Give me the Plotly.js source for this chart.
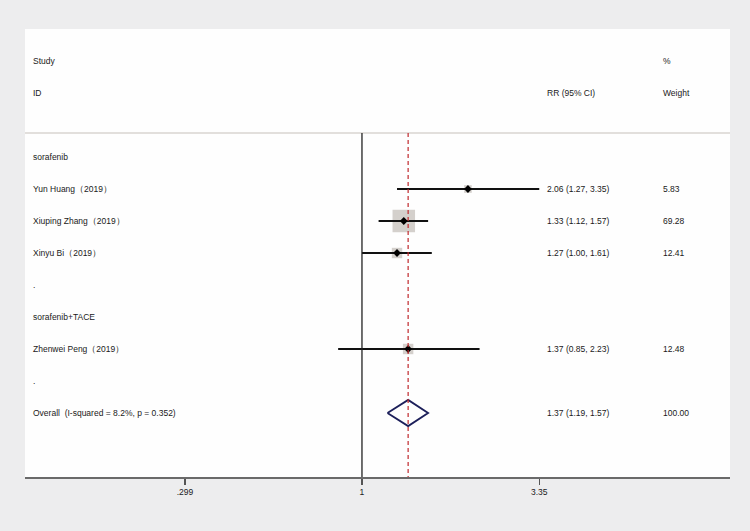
<!DOCTYPE html>
<html>
<head>
<meta charset="utf-8">
<script src="https://cdn.plot.ly/plotly-3.0.1.min.js"></script>
<style>
  html, body { margin: 0; padding: 0; background: #ededee; }
  #forest { width: 750px; height: 531px; }
</style>
</head>
<body>
<div id="forest"></div>
<script>
// rows of the left column, top to bottom (after the two header rows)
var rowLabels = ['sorafenib', 'Yun Huang（2019）', 'Xiuping Zhang（2019）', 'Xinyu Bi（2019）', '.',
                 'sorafenib+TACE', 'Zhenwei Peng（2019）', '.', 'Overall\u00a0\u00a0(I-squared = 8.2%, p = 0.352)'];

// individual studies
var studies = ['Yun Huang（2019）', 'Xiuping Zhang（2019）', 'Xinyu Bi（2019）', 'Zhenwei Peng（2019）'];
var rr      = [2.06, 1.33, 1.27, 1.37];
var ciLow   = [1.27, 1.12, 1.00, 0.85];
var ciHigh  = [3.35, 1.57, 1.61, 2.23];
var weights = [5.83, 69.28, 12.41, 12.48];

// pooled estimate
var overallRR = 1.37, overallLow = 1.19, overallHigh = 1.57, overallWeight = 100.00;

var tickVals = [0.299, 1, 3.35];
var tickText = ['.299', '1', '3.35'];

var firstRow = 3;  // rows 0,1 are headers, 2 is blank
function rowOf(label){ return rowLabels.indexOf(label) + firstRow; }
var overallRow = rowLabels.length - 1 + firstRow;

var font = {family: 'Liberation Sans, Arial, sans-serif', size: 8.5, color: '#1a1a1a'};
var colStudy = 0.0092, colRR = 0.737, colWt = 0.902;

var traces = [];
var studyRows = studies.map(rowOf);

// weight boxes
var maxW = Math.max.apply(null, weights);
traces.push({
	x: rr, y: studyRows, mode: 'markers', type: 'scatter', hoverinfo: 'skip',
	marker: {symbol: 'square', color: '#c2bcb7',
		size: weights.map(function(w){ return 21*Math.sqrt(w/maxW) + 1.5; }), line: {width: 0}}
});

// confidence intervals
studies.forEach(function(s, i){
	traces.push({
		x: [ciLow[i], ciHigh[i]], y: [studyRows[i], studyRows[i]],
		mode: 'lines', type: 'scatter', hoverinfo: 'skip',
		line: {color: '#111', width: 1.8}
	});
});

// point estimates
traces.push({
	x: rr, y: studyRows, mode: 'markers', type: 'scatter', hoverinfo: 'skip',
	marker: {symbol: 'diamond', color: '#000', size: 6}
});

// pooled diamond
var hh = 0.41;
traces.push({
	x: [overallLow, overallRR, overallHigh, overallRR, overallLow],
	y: [overallRow, overallRow - hh, overallRow, overallRow + hh, overallRow],
	mode: 'lines', type: 'scatter', hoverinfo: 'skip',
	line: {color: '#1c1f5a', width: 1.8}
});

var annotations = [];
function addText(txt, xp, row){
	annotations.push({text: txt, x: xp, xref: 'paper', y: row, yref: 'y',
		xanchor: 'left', yanchor: 'middle', showarrow: false, font: font});
}
addText('Study', colStudy, 0);
addText('ID', colStudy, 1);
addText('%', colWt, 0);
addText('RR (95% CI)', colRR, 1);
addText('Weight', colWt, 1);
rowLabels.forEach(function(l, i){ addText(l, colStudy, i + firstRow); });
studies.forEach(function(s, i){
	addText(rr[i].toFixed(2) + ' (' + ciLow[i].toFixed(2) + ', ' + ciHigh[i].toFixed(2) + ')', colRR, studyRows[i]);
	addText(weights[i].toFixed(2), colWt, studyRows[i]);
});
addText(overallRR.toFixed(2) + ' (' + overallLow.toFixed(2) + ', ' + overallHigh.toFixed(2) + ')', colRR, overallRow);
addText(overallWeight.toFixed(2), colWt, overallRow);

var topLine = 2.25, bottomRow = 13;
var shapes = [
	{type: 'line', xref: 'paper', x0: 0, x1: 1, yref: 'y', y0: topLine, y1: topLine,
		line: {color: '#d9d5d1', width: 1.5}},
	{type: 'line', xref: 'x', x0: 1, x1: 1, yref: 'y', y0: topLine, y1: bottomRow,
		line: {color: '#222', width: 1.3}},
	{type: 'line', xref: 'x', x0: overallRR, x1: overallRR, yref: 'y', y0: topLine, y1: bottomRow,
		line: {color: '#c0282d', width: 1.2, dash: '4px,3px'}}
];

var layout = {
	width: 750, height: 531,
	margin: {l: 25, r: 20, t: 29, b: 54},
	paper_bgcolor: '#ededee', plot_bgcolor: '#fefefe',
	showlegend: false,
	xaxis: {type: 'log', range: [-0.998, 1.090], tickvals: tickVals, ticktext: tickText,
		ticks: 'outside', ticklen: 6, tickwidth: 1.3, tickcolor: '#555',
		showline: true, linecolor: '#6a6a6a', linewidth: 1.6,
		showgrid: false, zeroline: false, tickfont: font, fixedrange: true},
	yaxis: {range: [bottomRow, -1], showgrid: false, zeroline: false,
		showticklabels: false, showline: false, fixedrange: true},
	shapes: shapes,
	annotations: annotations
};

Plotly.newPlot('forest', traces, layout, {displayModeBar: false, staticPlot: true});
</script>
</body>
</html>
